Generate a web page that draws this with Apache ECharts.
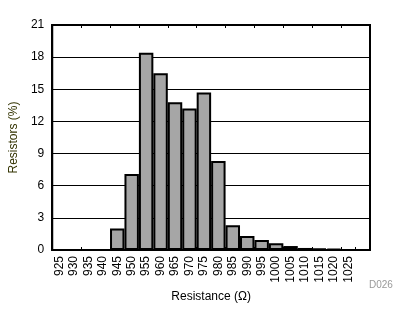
<!DOCTYPE html>
<html><head><meta charset="utf-8">
<script src="https://cdn.jsdelivr.net/npm/echarts@6/dist/echarts.min.js"></script>
<style>html,body{margin:0;padding:0;background:#fff}#c{width:408px;height:316px}</style>
</head><body><div id="c"></div>
<script>
const categories = ['925','930','935','940','945','950','955','960','965','970','975','980','985','990','995','1000','1005','1010','1015','1020','1025',''];
const percentValues = [0,0,0,0,2.0,7.1,18.4,16.5,13.8,13.2,14.7,8.3,2.3,1.3,0.93,0.62,0.37,0.19,0.12,0.1,0,0];
const yTicks = {min:0, max:21, interval:3};
const chart = echarts.init(document.getElementById('c'), null, {renderer:'canvas'});
const font = 'Liberation Sans, Arial, sans-serif';
chart.setOption({
  animation:false,
  grid:{left:52,right:38,top:25,bottom:66,show:true,borderColor:'#000',borderWidth:2,backgroundColor:'transparent'},
  xAxis:[{
    type:'category', data:categories, boundaryGap:true,
    axisLine:{show:true,lineStyle:{color:'#000',width:2}},
    axisTick:{show:true,inside:true,length:3,interval:1,lineStyle:{color:'#000'}},
    axisLabel:{rotate:90,interval:0,color:'#000',fontSize:12,fontFamily:font,margin:6},
    name:'Resistance (Ω)', nameLocation:'middle', nameGap:41,
    nameTextStyle:{color:'#000',fontSize:12,fontFamily:font}
  },{
    type:'category', data:categories, position:'top', boundaryGap:true,
    axisLine:{show:true,lineStyle:{color:'#000',width:2}},
    axisTick:{show:true,inside:true,length:3,interval:1,lineStyle:{color:'#000'}},
    axisLabel:{show:false}
  }],
  yAxis:{
    type:'value', min:yTicks.min, max:yTicks.max, interval:yTicks.interval,
    axisLine:{show:true,lineStyle:{color:'#000',width:2}},
    axisTick:{show:false},
    axisLabel:{color:'#000',fontSize:12,fontFamily:font,margin:8},
    splitLine:{show:true,lineStyle:{color:'#000',width:1}},
    name:'Resistors (%)', nameLocation:'middle', nameGap:32,
    nameTextStyle:{color:'#333300',fontSize:12,fontFamily:font}
  },
  series:[{
    type:'bar', data:percentValues, xAxisIndex:0, barCategoryGap:'0%', barGap:'0%',
    itemStyle:{color:'#A6A6A6',borderColor:'#000',borderWidth:2}
  }],
  graphic:[{type:'text',left:369,top:280,style:{text:'D026',fill:'#999',font:'10px '+font}}]
});
</script></body></html>
